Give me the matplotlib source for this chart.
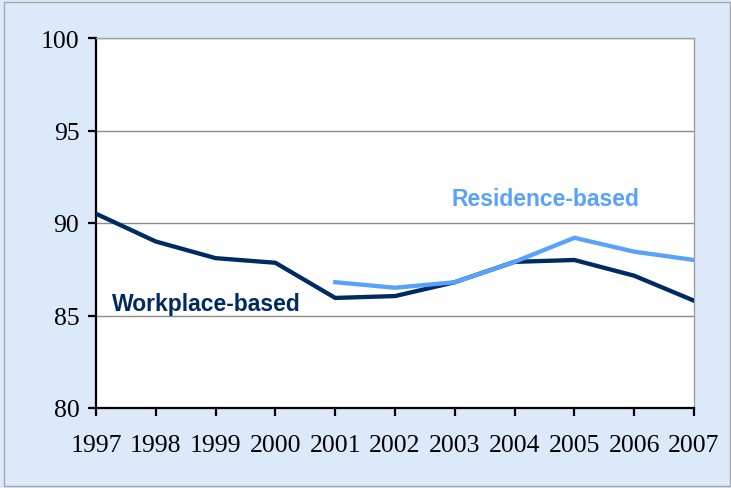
import matplotlib
matplotlib.use("Agg")
import matplotlib.pyplot as plt
from matplotlib.patches import Rectangle

years = [1997, 1998, 1999, 2000, 2001, 2002, 2003, 2004, 2005, 2006, 2007]
workplace = [90.5, 89.0, 88.1, 87.85, 85.95, 86.05, 86.8, 87.9, 88.0, 87.15, 85.8]
res_years = [2001, 2002, 2003, 2004, 2005, 2006, 2007]
residence = [86.8, 86.5, 86.8, 87.9, 89.2, 88.45, 88.0]
yticks = [80, 85, 90, 95, 100]

bg = "#dce9fb"
navy = "#002a62"
light = "#59a2fb"

fig = plt.figure(figsize=(7.31, 4.89), dpi=100, facecolor=bg)
fig.patches.append(Rectangle((0.006, 0.004), 0.992, 0.99, transform=fig.transFigure,
                             fill=False, edgecolor="#a8a8a8", linewidth=1))
ax = fig.add_axes([96/731, 80/489, 598/731, 370/489])
ax.set_facecolor("white")

ax.plot(years, workplace, color=navy, linewidth=3.1, solid_joinstyle="miter", zorder=3)
ax.plot(res_years, residence, color=light, linewidth=3.1, solid_joinstyle="miter", zorder=3)

ax.set_xlim(1997, 2007)
ax.set_ylim(80, 100)
ax.set_xticks(years)
ax.set_yticks(yticks)
ax.yaxis.grid(True, color="#8c8c8c", linewidth=1)
ax.set_axisbelow(True)

for s in ["top", "right"]:
    ax.spines[s].set_color("#a0a0a0")
    ax.spines[s].set_linewidth(1)
for s in ["left", "bottom"]:
    ax.spines[s].set_color("black")
    ax.spines[s].set_linewidth(1.6)

ax.tick_params(axis="both", direction="out", length=6, width=1.6, color="black",
               labelsize=18.5, labelfontfamily="Liberation Serif")
ax.tick_params(axis="x", pad=13)
ax.tick_params(axis="y", pad=6)

ax.text(1997.26, 85.65, "Workplace-based", color=navy, fontsize=16.5, fontweight="bold",
        family="Liberation Sans", va="center", ha="left")
ax.text(2002.94, 91.3, "Residence-based", color=light, fontsize=16.5, fontweight="bold",
        family="Liberation Sans", va="center", ha="left")

fig.savefig("out.png", dpi=100, facecolor=bg)
